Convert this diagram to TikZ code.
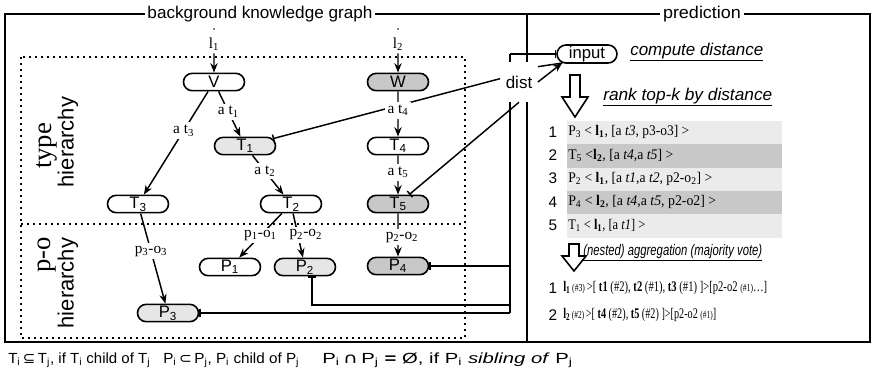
\documentclass[tikz,border=0pt]{standalone}
\usepackage{fontspec}
\setmainfont{Liberation Serif}
\setsansfont{Liberation Sans}
\newfontfamily\dvsym{DejaVu Sans}
\usetikzlibrary{shapes.misc,arrows.meta}
\definecolor{lgray}{HTML}{E6E6E6}
\definecolor{dgray}{HTML}{C8C8C8}
\definecolor{rowl}{HTML}{EBEBEB}
\definecolor{rowd}{HTML}{C8C8C8}
\newcommand\fitw[2]{\resizebox{#1}{\height}{#2}}
\begin{document}
\begin{tikzpicture}[x=0.75pt,y=-0.75pt,
  pill/.style={draw, rounded rectangle, line width=1.2pt, minimum width=45.75pt,
    minimum height=13pt, inner sep=0pt, fill=white,
    font=\sffamily\fontsize{12.5}{13}\selectfont},
  lg/.style={fill=lgray}, dg/.style={fill=dgray},
  elab/.style={fill=white, inner sep=2pt, font=\rmfamily\fontsize{11.5}{12}\selectfont},
  arr/.style={line width=1.1pt, -{Stealth[length=7pt,width=5.5pt]}},
  bararr/.style={line width=1.1pt, -{Bar[width=6pt,line width=1.1pt]}},
  frm/.style={line width=1.2pt},
  dotl/.style={line width=1.2pt, dash pattern=on 1.2pt off 3.3pt},
  ttl/.style={fill=white, inner sep=2pt, font=\sffamily\fontsize{12.75}{14}\selectfont},
  sans/.style={font=\sffamily\fontsize{11.5}{13}\selectfont},
  rowtxt/.style={anchor=west, inner sep=0pt, font=\rmfamily\fontsize{11}{12}\selectfont},
  legtxt/.style={anchor=west, inner sep=0pt, font=\sffamily\fontsize{11}{12}\selectfont},
  hollow/.style={draw, line width=1.2pt, fill=white, line join=miter}
]
\useasboundingbox (0,0) rectangle (872,376);

% frame
\draw[frm] (5,14) rectangle (870,342);
\draw[frm] (527,14) -- (527,342);
\node[ttl] (ttlbg) at (260,14) {\fitw{168.75pt}{background knowledge graph}};
\node[ttl] (ttlpr) at (702,14) {\fitw{58.5pt}{prediction}};

% dotted regions
\draw[dotl] (21,57) rectangle (465,338);
\draw[dotl] (21,224) -- (465,224);

% nodes
\node[pill] (V) at (214,82) {V};
\node[pill,dg] (W) at (398,82) {W};
\node[pill,lg] (T1) at (245,146) {T\textsubscript{1}};
\node[pill] (T4) at (398,146) {T\textsubscript{4}};
\node[pill] (T3) at (138,204) {T\textsubscript{3}};
\node[pill] (T2) at (291,204) {T\textsubscript{2}};
\node[pill,dg] (T5) at (398,204) {T\textsubscript{5}};
\node[pill] (P1) at (230,267) {P\textsubscript{1}};
\node[pill,lg] (P2) at (305,267) {P\textsubscript{2}};
\node[pill,dg] (P4) at (398,266) {P\textsubscript{4}};
\node[pill,lg] (P3) at (168,313) {P\textsubscript{3}};
\node[pill, minimum width=45pt, minimum height=13.5pt] (input) at (587,54) {input};

% bus
\coordinate (bt) at (510,54);
\coordinate (b4) at (510,266);
\coordinate (b2) at (510,305);
\coordinate (bb) at (510,313);
\draw[line width=1.1pt] (bt) -- (bb);
\draw[bararr] (bt) -- (input.west);
\draw[bararr] (b4) -- (P4.east);
\draw[bararr] (b2) -| ([xshift=5.25pt]P2.south);
\draw[bararr] (bb) -- (P3.east);

% dist
\node[fill=white, minimum width=28pt, minimum height=30pt, inner sep=0pt,
  font=\sffamily\fontsize{12.75}{14}\selectfont] (dist) at (519,82) {dist};
\draw[bararr] (dist.170) -- (T1);
\draw[bararr] (dist.south) -- (T5);
\draw[line width=1.1pt] (dist.39) -- (input.200);
\draw[arr] (dist.east) -- (input.200);

% graph edges
\fill (214,29) circle (0.7pt);
\fill (398,29) circle (0.7pt);
\node[elab] (l1) at (214,44) {l\textsubscript{1}};
\node[elab] (l2) at (398,44) {l\textsubscript{2}};
\draw[arr] (l1) -- (V);
\draw[arr] (l2) -- (W);
\draw[arr] (V) -- node[elab,pos=0.45]{a t\textsubscript{1}} (T1);
\draw[arr] (V) -- node[elab,pos=0.38]{a t\textsubscript{3}} (T3);
\draw[arr] (T1) -- node[elab,pos=0.4]{a t\textsubscript{2}} (T2);
\draw[arr] (W) -- node[elab,pos=0.42]{a t\textsubscript{4}} (T4);
\draw[arr] (T4) -- node[elab,pos=0.43]{a t\textsubscript{5}} (T5);
\draw[arr] (T3) -- node[elab,pos=0.42]{p\textsubscript{3}-o\textsubscript{3}} (P3);
\draw[arr] (T2) -- node[elab,pos=0.5]{p\textsubscript{1}-o\textsubscript{1}} (P1);
\draw[arr] (T2) -- node[elab,pos=0.48,xshift=6pt]{p\textsubscript{2}-o\textsubscript{2}} (P2);
\draw[arr] (T5) -- node[elab,pos=0.55,xshift=3pt]{p\textsubscript{2}-o\textsubscript{2}} (P4);

% region labels
\node[rotate=90, inner sep=0pt, font=\rmfamily\fontsize{20}{22}\selectfont] (lt) at (47,146) {type};
\node[rotate=90, inner sep=0pt, font=\sffamily\fontsize{16.5}{18}\selectfont] (lh1) at (68,142) {hierarchy};
\node[rotate=90, inner sep=0pt, font=\rmfamily\fontsize{20}{22}\selectfont] (lp) at (47,255) {p-o};
\node[rotate=90, inner sep=0pt, font=\sffamily\fontsize{16.5}{18}\selectfont] (lh2) at (68,283) {hierarchy};

% prediction panel
\node[anchor=west, inner sep=0pt, font=\sffamily\fontsize{12.75}{14}\selectfont] (cd) at (630,52)
  {\fitw{99.75pt}{\underline{\textit{compute distance}}}};
\draw[hollow] (570,75) -- (580,75) -- (580,97) -- (588,97) -- (575,117) -- (562,97) -- (570,97) -- cycle;
\node[anchor=west, inner sep=0pt, font=\sffamily\fontsize{12.75}{14}\selectfont] (rk) at (603,97)
  {\fitw{126.75pt}{\underline{\textit{rank top-k by distance}}}};

\fill[rowl] (567,121) rectangle (782,144.3);
\fill[rowd] (567,144.3) rectangle (782,167.6);
\fill[rowl] (567,167.6) rectangle (782,190.9);
\fill[rowd] (567,190.9) rectangle (782,214.2);
\fill[rowl] (567,214.2) rectangle (782,237.5);

\node[sans] (n1) at (553,132) {1};
\node[sans] (n2) at (553,155.3) {2};
\node[sans] (n3) at (553,178.6) {3};
\node[sans] (n4) at (553,201.9) {4};
\node[sans] (n5) at (553,225.2) {5};
\node[rowtxt] (r1) at (568,132) {\fitw{90.75pt}{P\textsubscript{3} < \textbf{l\textsubscript{1}}, [a \textit{t3}, p3-o3] >}};
\node[rowtxt] (r2) at (568,155.3) {\fitw{78.75pt}{T\textsubscript{5} <\textbf{l\textsubscript{2}}, [a \textit{t4},a \textit{t5}] >}};
\node[rowtxt] (r3) at (568,178.6) {\fitw{108pt}{P\textsubscript{2} < \textbf{l\textsubscript{1}}, [a \textit{t1},a \textit{t2}, p2-o\textsubscript{2}] >}};
\node[rowtxt] (r4) at (568,201.9) {\fitw{111pt}{P\textsubscript{4} < \textbf{l\textsubscript{2}}, [a \textit{t4},a \textit{t5}, p2-o2] >}};
\node[rowtxt] (r5) at (568,225.2) {\fitw{57.75pt}{T\textsubscript{1} < \textbf{l\textsubscript{1}}, [a \textit{t1}] >}};

\draw[hollow] (569,244) -- (579,244) -- (579,256) -- (586,256) -- (574,271) -- (562,256) -- (569,256) -- cycle;
\node[anchor=west, inner sep=0pt, font=\sffamily\fontsize{11.5}{12}\selectfont] (ag) at (583,253)
  {\fitw{134.25pt}{\underline{\textit{(nested) aggregation (majority vote)}}}};

\node[sans] (m1) at (553,288) {1};
\node[sans] (m2) at (553,315) {2};
\node[rowtxt, font=\rmfamily\fontsize{11}{12}\selectfont] (q1) at (563,288)
  {\fitw{153pt}{\textbf{l\textsubscript{1}}\,{\footnotesize(\#3)}\,>[ \textbf{t1} (\#2), \textbf{t2} (\#1), \textbf{t3} (\#1) ]>[p2-o2 {\footnotesize(\#1)}…]}};
\node[rowtxt, font=\rmfamily\fontsize{11}{12}\selectfont] (q2) at (563,315)
  {\fitw{114.75pt}{\textbf{l\textsubscript{2}}\,{\footnotesize(\#2)}\,>[ \textbf{t4} (\#2), \textbf{t5} (\#2) ]>[p2-o2 {\footnotesize(\#1)}]}};

% bottom legend
\node[legtxt] (s1) at (8,360)
  {\fitw{106.5pt}{T\textsubscript{i}\,{\dvsym ⊆}\,T\textsubscript{j}, if T\textsubscript{i} child of T\textsubscript{j}}};
\node[legtxt] (s2) at (163,360)
  {\fitw{102pt}{P\textsubscript{i}\,{\dvsym ⊂}\,P\textsubscript{j}, P\textsubscript{i} child of P\textsubscript{j}}};
\node[legtxt] (s3) at (322,360)
  {\fitw{188pt}{P\textsubscript{i}\,{\dvsym ∩}\,P\textsubscript{j} \textbf{=} Ø, if P\textsubscript{i} \textit{sibling of} P\textsubscript{j}}};
\end{tikzpicture}
\end{document}
